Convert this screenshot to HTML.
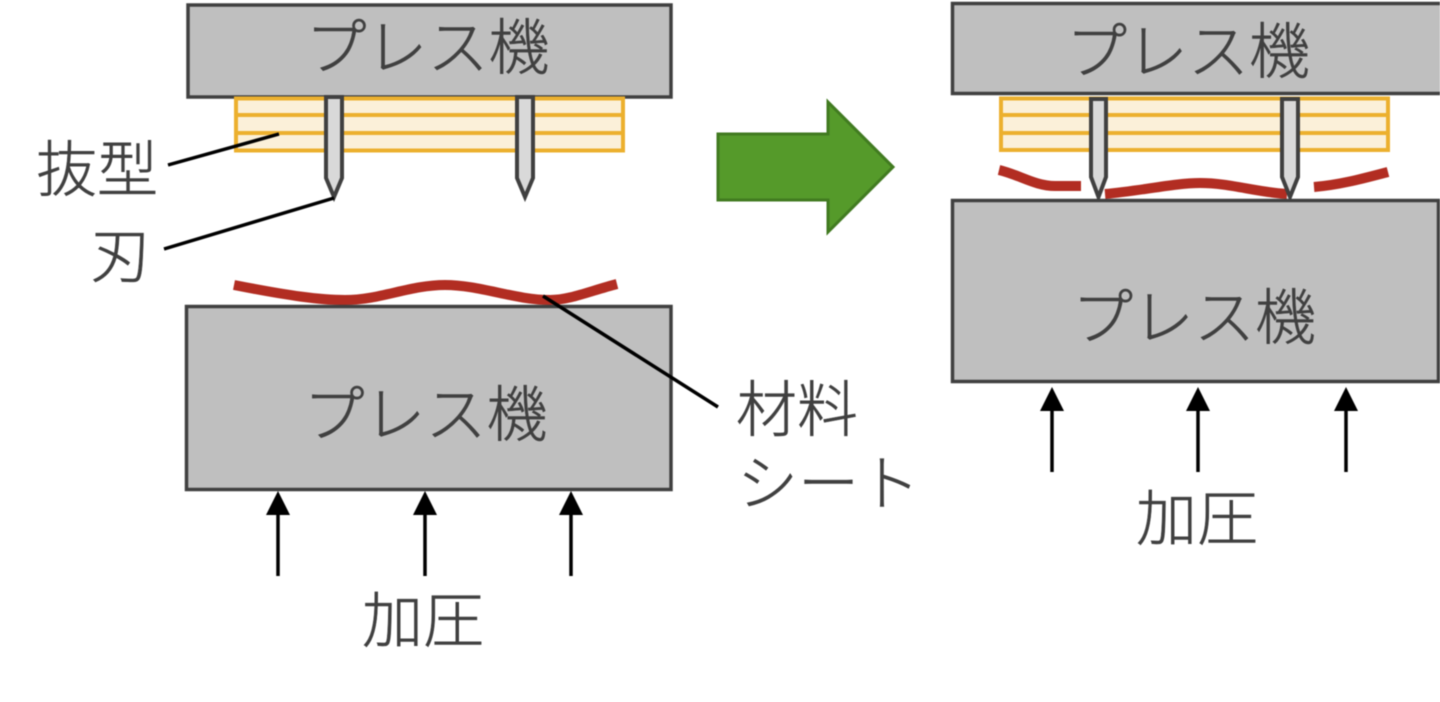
<!DOCTYPE html>
<html lang="ja"><head><meta charset="utf-8"><style>
html,body{margin:0;padding:0;background:#fff;width:1440px;height:702px;overflow:hidden}
svg{display:block;filter:blur(0.6px)}
text{font-family:"Liberation Sans","Noto Sans CJK JP",sans-serif;font-size:61px;fill:#404040;stroke:#404040;stroke-width:0.500;font-weight:300;text-anchor:middle}
</style></head><body>
<svg width="1440" height="702" viewBox="0 0 1440 702" xmlns="http://www.w3.org/2000/svg">
<!-- left -->
<rect x="188" y="5" width="483" height="92" fill="#bfbfbf" stroke="#404040" stroke-width="3.500"/>
<g fill="#fbf0d9" stroke="#ecb02e" stroke-width="4"><rect x="236" y="98.500" width="387" height="52"/><path d="M236 115H623M236 133H623" fill="none"/></g>
<path d="M326 97H342V178L334 197L326 178Z" fill="#d9d9d9" stroke="#404040" stroke-width="4"/>
<path d="M517 97H533V178L525 197L517 178Z" fill="#d9d9d9" stroke="#404040" stroke-width="4"/>
<path d="M234 285C290 296 320 300 345 300C380 300 410 285 445 285C480 285 515 300 550 300C570 300 590 291 617 284" fill="none" stroke="#b22d22" stroke-width="10"/>
<rect x="186.500" y="306.500" width="484.500" height="183" fill="#bfbfbf" stroke="#404040" stroke-width="3.500"/>
<g stroke="#000" stroke-width="3.500" fill="none"><path d="M168 165L279 134M164 249L334 198M543 296L718 407"/></g>
<g stroke="#000" stroke-width="3.500"><path d="M278 576V515M425 576V515M571 576V515"/></g>
<path d="M266 515L278 491L290 515ZM413 515L425 491L437 515ZM559 515L571 491L583 515Z" fill="#000"/>
<text x="427.500" y="69">プレス機</text>
<text x="425.500" y="436">プレス機</text>
<text x="97" y="191">抜型</text>
<text x="120.500" y="277">刃</text>
<text x="797" y="431">材料</text>
<text x="828.500" y="505">シート</text>
<text x="423" y="642">加圧</text>
<!-- arrow -->
<path d="M718 134H828V102L893 167L828 232V200H718Z" fill="#559a2a" stroke="#417a20" stroke-width="3"/>
<!-- right -->
<rect x="952.500" y="3.500" width="490" height="90" fill="#bfbfbf" stroke="#404040" stroke-width="3.500"/>
<g fill="#fbf0d9" stroke="#ecb02e" stroke-width="4"><rect x="1001" y="98.500" width="387" height="51.500"/><path d="M1001 115H1388M1001 133H1388" fill="none"/></g>
<path d="M999 170C1020 175 1035 186 1055 186H1081" fill="none" stroke="#b22d22" stroke-width="10"/>
<path d="M1105 194C1140 191 1175 183 1200 183C1230 183 1255 192 1287 194" fill="none" stroke="#b22d22" stroke-width="10"/>
<path d="M1314 187C1340 185 1365 178 1388 172" fill="none" stroke="#b22d22" stroke-width="10"/>
<path d="M1091 99H1106V177L1098.500 197L1091 177Z" fill="#d9d9d9" stroke="#404040" stroke-width="4"/>
<path d="M1282 99H1298V177L1290 197L1282 177Z" fill="#d9d9d9" stroke="#404040" stroke-width="4"/>
<rect x="952.500" y="200.500" width="486" height="181" fill="#bfbfbf" stroke="#404040" stroke-width="3.500"/>
<g stroke="#000" stroke-width="3.500"><path d="M1052 472V411M1198 472V411M1346 472V411"/></g>
<path d="M1040 411L1052 387L1064 411ZM1186 411L1198 387L1210 411ZM1334 411L1346 387L1358 411Z" fill="#000"/>
<text x="1188" y="73">プレス機</text>
<text x="1194" y="339">プレス機</text>
<text x="1197" y="540">加圧</text>
</svg>
</body></html>
